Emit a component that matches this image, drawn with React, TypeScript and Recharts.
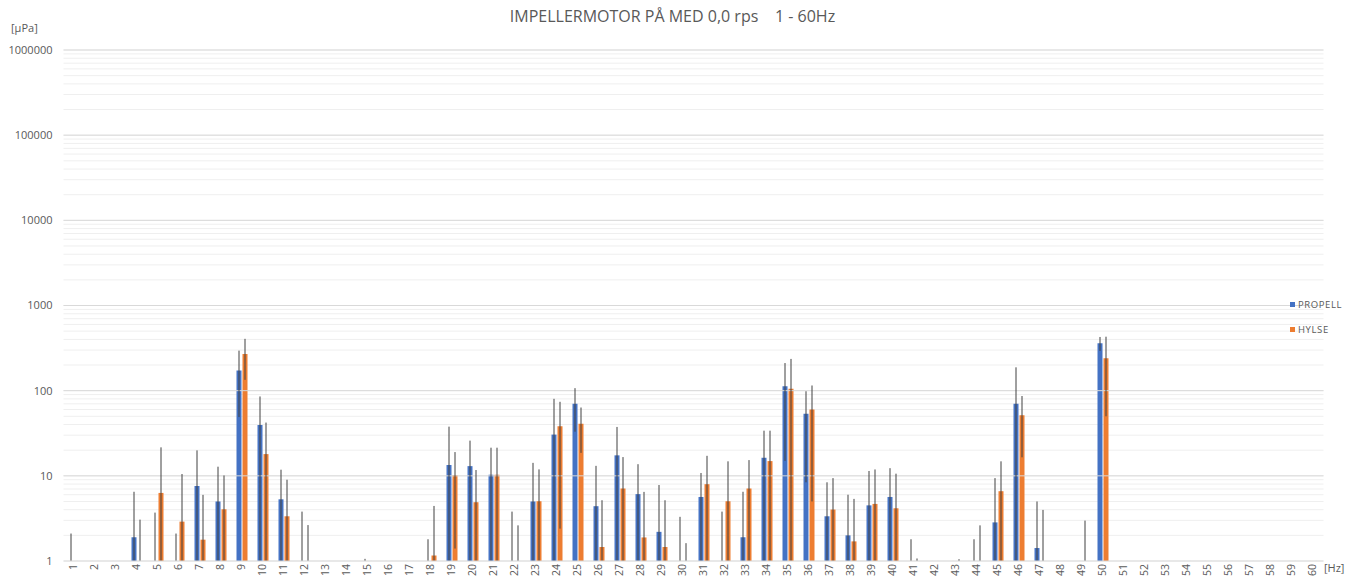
import React from "react";
import {
  BarChart,
  Bar,
  ErrorBar,
  XAxis,
  YAxis,
  CartesianGrid,
  ReferenceLine,
  Legend,
} from "recharts";

// frequency bins 1..60 Hz
const categories = [
  "1", "2", "3", "4", "5", "6", "7", "8", "9", "10",
  "11", "12", "13", "14", "15", "16", "17", "18", "19", "20",
  "21", "22", "23", "24", "25", "26", "27", "28", "29", "30",
  "31", "32", "33", "34", "35", "36", "37", "38", "39", "40",
  "41", "42", "43", "44", "45", "46", "47", "48", "49", "50",
  "51", "52", "53", "54", "55", "56", "57", "58", "59", "60",
];

// mean level [µPa]; 0 = below the axis floor of 1
const propell = [
  0, 0, 0, 1.9, 0, 0, 7.6, 5.0, 172, 39.6,
  5.3, 0, 0, 0, 0, 0, 0, 0, 13.4, 13.0,
  10.3, 0, 5.0, 30.5, 70, 4.4, 17.4, 6.1, 2.2, 0,
  5.65, 0, 1.9, 16.3, 113, 53.4, 3.35, 2.0, 4.5, 5.65,
  0, 0, 0, 0, 2.84, 70, 1.42, 0, 0, 360,
  0, 0, 0, 0, 0, 0, 0, 0, 0, 0,
];
const propellErr = [
  2.1, 0, 0, 4.6, 3.7, 2.1, 12.3, 7.8, 123, 45.9,
  6.5, 3.8, 0, 0, 1.06, 0, 0, 1.8, 24.4, 12.9,
  11.1, 3.8, 9.2, 49.7, 37, 8.7, 20.1, 7.6, 5.6, 3.3,
  5.15, 3.8, 4.6, 17.6, 98, 45, 5.05, 4.0, 6.9, 6.65,
  1.8, 0, 0, 1.8, 6.56, 118, 3.58, 0, 0, 67,
  0, 0, 0, 0, 0, 0, 0, 0, 0, 0,
];
const hylse = [
  0, 0, 0, 0, 6.3, 2.9, 1.78, 4.05, 270, 18.0,
  3.35, 0, 0, 0, 0, 0, 0, 1.16, 10.2, 4.9,
  10.3, 0, 5.03, 38.2, 41, 1.46, 7.1, 1.89, 1.46, 0,
  7.98, 5.03, 7.1, 14.9, 105, 60, 4.02, 1.7, 4.68, 4.16,
  0, 0, 0, 0, 6.6, 51.5, 0, 0, 0, 240,
  0, 0, 0, 0, 0, 0, 0, 0, 0, 0,
];
const hylseErr = [
  0, 0, 0, 3.06, 15.3, 7.6, 4.2, 6.05, 136, 24.2,
  5.65, 2.64, 0, 0, 0, 0, 0, 3.27, 8.8, 6.8,
  11.1, 2.62, 6.87, 35.8, 22.4, 3.71, 9.5, 4.59, 3.71, 1.62,
  9.2, 9.77, 8.2, 19, 131, 55, 5.38, 3.66, 7.2, 6.44,
  1.07, 0, 1.05, 2.62, 8.2, 35, 3.98, 0, 2.98, 190,
  0, 0, 0, 0, 0, 0, 0, 0, 0, 0,
];

const yLabels = [1, 10, 100, 1000, 10000, 100000, 1000000];

const FLOOR = 1;
// clip bar and whisker to the log axis floor (bar kept a hair above it so its whisker still renders)
const clip = (mean: number, err: number) => {
  const v = Math.max(mean, FLOOR * 1.0005);
  const lo = Math.max(mean - err, FLOOR);
  const hi = Math.max(mean + err, v);
  return { v, e: [v - lo, hi - v] };
};

const data = categories.map((c, i) => {
  const p = clip(propell[i], propellErr[i]);
  const h = clip(hylse[i], hylseErr[i]);
  return { hz: c, propell: p.v, propellErr: p.e, hylse: h.v, hylseErr: h.e };
});

const minorTicks = yLabels
  .slice(0, -1)
  .flatMap((d) => [1, 2, 3, 4, 5, 6, 7, 8, 9].map((m) => m * d))
  .concat([1000000]);

const FONT = "'Open Sans', sans-serif";
const GREY = "#595959";

const XTick = ({ x, y, payload }: any) => (
  <text
    x={x - 1}
    y={y}
    transform={`rotate(-90 ${x - 1} ${y})`}
    textAnchor="end"
    dominantBaseline="central"
    fontSize={10.5}
    fontFamily={FONT}
    fill={GREY}
  >
    {payload.value}
  </text>
);

const LegendBox = () => (
  <div style={{ fontFamily: FONT, fontSize: 9.5, color: GREY, letterSpacing: 0.6 }}>
    {[
      { name: "PROPELL", color: "#4472C4" },
      { name: "HYLSE", color: "#ED7D31" },
    ].map((it) => (
      <div key={it.name} style={{ display: "flex", alignItems: "center", height: 25 }}>
        <span style={{ width: 5, height: 5, background: it.color, marginRight: 3 }} />
        {it.name}
      </div>
    ))}
  </div>
);

export default function App() {
  return (
    <div style={{ position: "absolute", left: 0, top: 0, width: 1356, height: 586, background: "#fff" }}>
      <div
        style={{
          position: "absolute",
          left: 0,
          width: 1345,
          top: 5,
          textAlign: "center",
          fontFamily: FONT,
          fontSize: 16,
          color: GREY,
          whiteSpace: "pre",
        }}
      >
        {"IMPELLERMOTOR PÅ MED 0,0 rps    1 - 60Hz"}
      </div>
      <div style={{ position: "absolute", left: 11, top: 20, fontFamily: FONT, fontSize: 11, color: GREY }}>
        [µPa]
      </div>
      <div style={{ position: "absolute", left: 1324, top: 560, fontFamily: FONT, fontSize: 11, color: GREY }}>
        [Hz]
      </div>
      <BarChart
        width={1356}
        height={586}
        data={data}
        margin={{ top: 50, right: 32.5, left: 0, bottom: 0 }}
        barSize={5}
        barGap={1}
      >
        <CartesianGrid horizontal vertical={false} stroke="#efefef" strokeWidth={1} />
        <XAxis
          dataKey="hz"
          height={25}
          interval={0}
          tickLine={false}
          tickSize={0}
          tickMargin={3}
          axisLine={{ stroke: "#d9d9d9" }}
          tick={<XTick />}
        />
        <YAxis
          scale="log"
          domain={[1, 1000000]}
          allowDataOverflow
          ticks={minorTicks}
          interval={0}
          width={63.5}
          tickLine={false}
          axisLine={false}
          tickMargin={5}
          tickFormatter={(v: number) => (yLabels.includes(v) ? String(v) : "")}
          tick={{ fontSize: 11, fontFamily: FONT, fill: GREY }}
        />
        {yLabels.slice(1).map((v) => (
          <ReferenceLine key={v} y={v} stroke="#d9d9d9" strokeWidth={1} />
        ))}
        <Legend
          layout="horizontal"
          align="center"
          verticalAlign="middle"
          content={<LegendBox />}
          wrapperStyle={{ left: 1290, top: 292, width: 66, height: 50 }}
        />
        <Bar dataKey="propell" name="PROPELL" fill="#4472C4" isAnimationActive={false}>
          <ErrorBar dataKey="propellErr" width={0} stroke="#404040" strokeWidth={1} direction="y" isAnimationActive={false} />
        </Bar>
        <Bar dataKey="hylse" name="HYLSE" fill="#ED7D31" isAnimationActive={false}>
          <ErrorBar dataKey="hylseErr" width={0} stroke="#404040" strokeWidth={1} direction="y" isAnimationActive={false} />
        </Bar>
      </BarChart>
    </div>
  );
}
